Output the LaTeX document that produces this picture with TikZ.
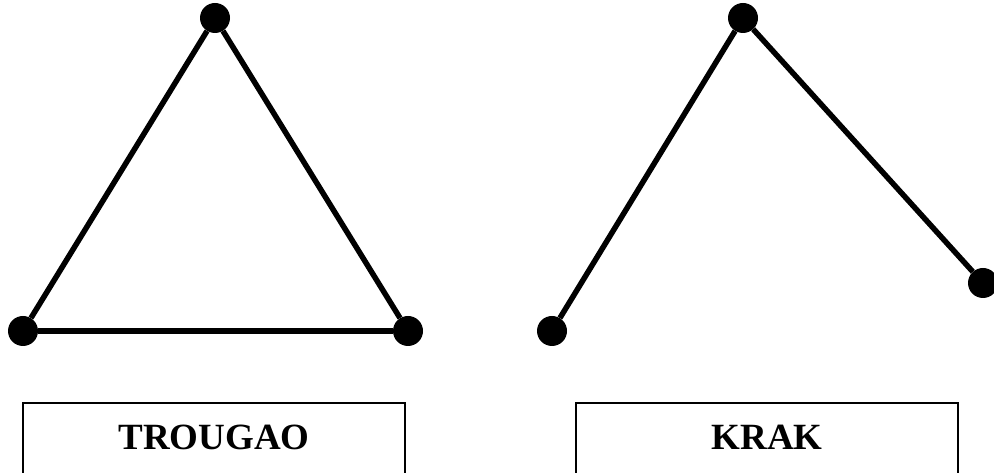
\documentclass[tikz,border=0pt]{standalone}
\usepackage{fontspec}
\setmainfont{Liberation Serif}
\begin{document}
\begin{tikzpicture}[x=1pt,y=1pt,
  dot/.style={circle,fill=black,inner sep=0pt,minimum size=30pt},
  edge/.style={line width=5.5pt},
  namebox/.style={draw,line width=2pt,rectangle,inner sep=0pt,minimum width=382pt,minimum height=100pt},
  lbl/.style={font=\fontsize{37}{40}\selectfont\bfseries,anchor=base,inner sep=0pt}]
\useasboundingbox (0,0) rectangle (994,473);
\clip (0,0) rectangle (994,473);
% triangle
\node[dot] (ta) at (215,455) {};
\node[dot] (tb) at (23,142) {};
\node[dot] (tc) at (408,142) {};
\draw[edge] (ta) -- (tb);
\draw[edge] (tb) -- (tc);
\draw[edge] (tc) -- (ta);
% krak
\node[dot] (ka) at (743,455) {};
\node[dot] (kb) at (552,142) {};
\node[dot] (kc) at (983,190) {};
\draw[edge] (kb) -- (ka);
\draw[edge] (ka) -- (kc);
% boxes
\node[namebox] (box1) at (214,20) {};
\node[namebox] (box2) at (767,20) {};
\node[lbl] (l1) at (214,23) {TROUGAO};
\node[lbl] (l2) at (767,23) {KRAK};
\end{tikzpicture}
\end{document}
